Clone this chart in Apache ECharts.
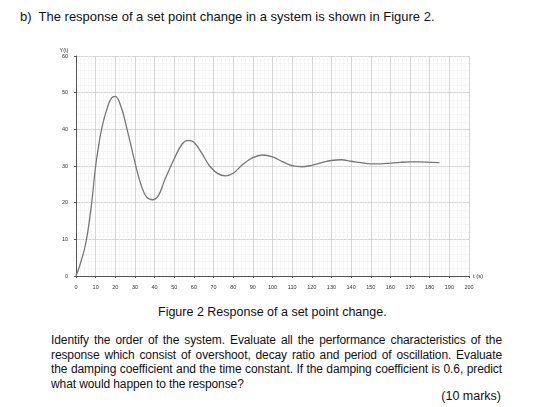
<!DOCTYPE html>
<html><head><meta charset="utf-8">
<script src="https://cdn.jsdelivr.net/npm/echarts@6/dist/echarts.min.js"></script>
<style>
body{margin:0;width:548px;height:407px;background:#fff;font-family:"Liberation Sans",Arial,sans-serif;color:#111;position:relative;overflow:hidden}
#chart{position:absolute;left:0;top:0;width:548px;height:300px}
.t{position:absolute;font-size:12.5px;white-space:nowrap}
#para{position:absolute;left:51px;top:333px;width:451px;font-size:12px;letter-spacing:-0.1px;line-height:14.6px;text-align:justify;text-align-last:left}
</style></head><body>
<div class="t" style="left:20px;top:9px;font-size:13px">b)&nbsp; The response of a set point change in a system is shown in Figure 2.</div>
<div id="chart"></div>
<div class="t" style="left:158px;top:305px">Figure 2 Response of a set point change.</div>
<div id="para">Identify the order of the system. Evaluate all the performance characteristics of the response which consist of overshoot, decay ratio and period of oscillation. Evaluate the damping coefficient and the time constant. If the damping coefficient is 0.6, predict what would happen to the response?</div>
<div class="t" style="right:47px;top:389px">(10 marks)</div>
<script>
var times = [0, 2, 5, 8, 10, 13, 16, 18, 20, 23, 26, 30, 33, 36, 39, 42, 45, 50, 54, 57, 60, 64, 68, 72, 76, 80, 85, 90, 95, 100, 105, 110, 115, 120, 125, 130, 135, 140, 145, 150, 155, 160, 165, 170, 175, 180, 185];
var values = [0, 3, 9, 20, 30, 40, 46, 48.5, 49, 46, 40, 31, 25, 21.5, 20.8, 22, 26, 32, 36, 37, 36.5, 33.5, 30, 28, 27.3, 28, 30.5, 32.3, 33, 32.5, 31.2, 30.1, 29.8, 30.2, 30.9, 31.5, 31.7, 31.3, 30.9, 30.6, 30.6, 30.8, 31, 31.1, 31.1, 31, 30.9];

var chart = echarts.init(document.getElementById('chart'));
var lbl = { fontSize: 5.5, color: '#333', fontFamily: 'Liberation Sans' };
var points = [];
for (var i = 0; i < times.length; i++) points.push([times[i], values[i]]);

chart.setOption({
  animation: false,
  grid: { left: 76, right: 79, top: 56, bottom: 24 },
  xAxis: {
    type: 'value', min: 0, max: 200, interval: 10,
    name: 't (s)', nameGap: 4, nameTextStyle: { fontSize: 6, color: '#333' },
    axisLine: { onZero: false, lineStyle: { color: '#555', width: 1 } },
    axisTick: { show: true, length: 2, lineStyle: { color: '#555' } },
    axisLabel: lbl,
    splitLine: { lineStyle: { color: '#cacaca', width: 0.8 } },
    minorTick: { show: false, splitNumber: 5 },
    minorSplitLine: { show: true, lineStyle: { color: '#f0f0f0', width: 0.6 } }
  },
  yAxis: {
    type: 'value', min: 0, max: 60, interval: 10,
    name: 'Y(t)', nameGap: 3, nameTextStyle: { fontSize: 5.5, color: '#333', padding: [0, 24, 0, 0] },
    axisLine: { show: true, lineStyle: { color: '#555', width: 1 } },
    axisTick: { show: true, length: 2, lineStyle: { color: '#555' } },
    axisLabel: lbl,
    splitLine: { lineStyle: { color: '#cacaca', width: 0.8 } },
    minorTick: { show: false, splitNumber: 5 },
    minorSplitLine: { show: true, lineStyle: { color: '#f0f0f0', width: 0.6 } }
  },
  series: [{
    type: 'line', data: points, smooth: 0.4, showSymbol: false,
    lineStyle: { color: '#777', width: 1.3 }
  }]
});
</script>
</body></html>
